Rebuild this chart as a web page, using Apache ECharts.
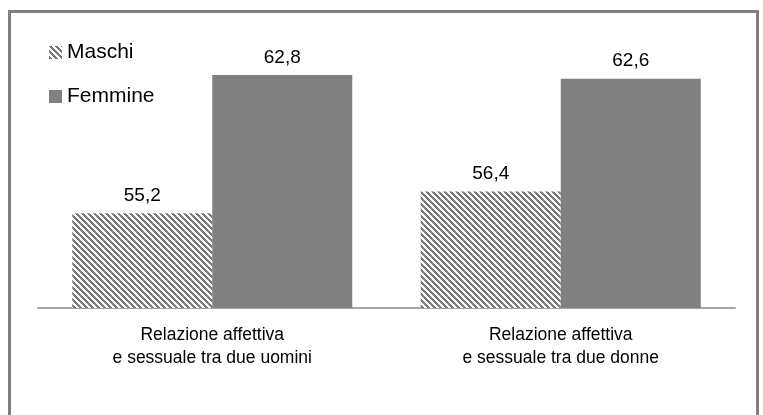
<!DOCTYPE html>
<html>
<head>
<meta charset="utf-8">
<script src="https://cdn.jsdelivr.net/npm/echarts@6/dist/echarts.min.js"></script>
<style>
  html, body { margin: 0; padding: 0; background: #fff; }
  #chart { width: 763px; height: 415px; }
</style>
</head>
<body>
<div id="chart"></div>
<script>
const categories = ['Relazione affettiva\ne sessuale tra due uomini', 'Relazione affettiva\ne sessuale tra due donne']
const maschi = [55.2, 56.4]
const femmine = [62.8, 62.6]

// diagonal hatch tile for Maschi
function hatch() {
    const c = document.createElement('canvas')
    c.width = 6
    c.height = 6
    const ctx = c.getContext('2d')
    ctx.fillStyle = '#fff'
    ctx.fillRect(0, 0, 6, 6)
    ctx.fillStyle = '#7a7a7a'
    for (let y = 0; y < 6; y++) {
        for (let x = 0; x < 6; x++) {
            if (((x - y) % 6 + 6) % 6 < 3) ctx.fillRect(x, y, 1, 1)
        }
    }
    return c
}

const chart = echarts.init(document.getElementById('chart'))
const fmt = p => p.value.toFixed(1).replace('.', ',')

chart.setOption({
    backgroundColor: '#fff',
    animation: false,
    graphic: [{
        type: 'rect',
        shape: { x: 9.5, y: 11.5, width: 748, height: 420 },
        style: { fill: 'none', stroke: '#808080', lineWidth: 3 }
    }],
    legend: {
        orient: 'vertical',
        left: 44,
        top: 37,
        icon: 'rect',
        itemWidth: 13,
        itemHeight: 13,
        itemGap: 23,
        textStyle: { fontFamily: 'Liberation Sans', fontSize: 21, color: '#000' },
        data: ['Maschi', 'Femmine']
    },
    grid: { left: 38, right: 28, top: 35, bottom: 107 },
    xAxis: {
        type: 'category',
        data: categories,
        axisTick: { show: false },
        axisLine: { lineStyle: { color: '#a6a6a6', width: 2 } },
        axisLabel: {
            margin: 16,
            fontFamily: 'Liberation Sans',
            fontSize: 17.5,
            lineHeight: 23,
            color: '#000'
        }
    },
    yAxis: {
        type: 'value',
        min: 50,
        max: 65,
        show: false,
        splitLine: { show: false }
    },
    series: [{
        name: 'Maschi',
        type: 'bar',
        data: maschi,
        barWidth: 140,
        barGap: 0,
        itemStyle: { color: { image: hatch(), repeat: 'repeat' } },
        label: {
            show: true,
            position: 'top',
            distance: 8,
            formatter: fmt,
            fontFamily: 'Liberation Sans',
            fontSize: 19,
            color: '#000'
        }
    }, {
        name: 'Femmine',
        type: 'bar',
        data: femmine,
        barWidth: 140,
        itemStyle: { color: '#808080' },
        label: {
            show: true,
            position: 'top',
            distance: 8,
            formatter: fmt,
            fontFamily: 'Liberation Sans',
            fontSize: 19,
            color: '#000'
        }
    }]
})
</script>
</body>
</html>
